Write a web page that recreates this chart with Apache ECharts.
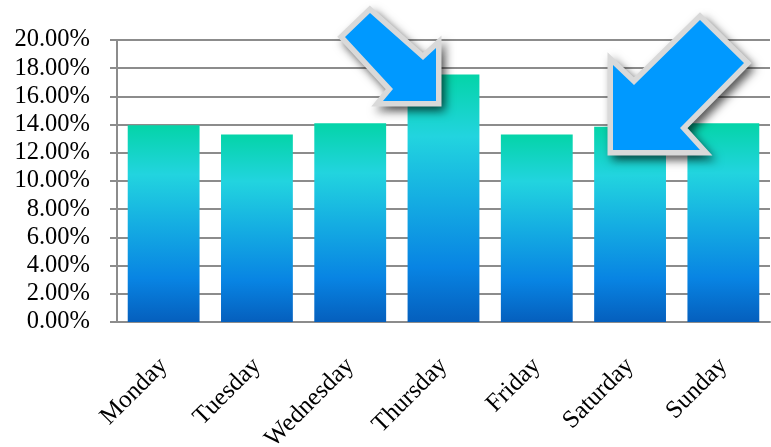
<!DOCTYPE html>
<html>
<head>
<meta charset="utf-8">
<script src="https://cdn.jsdelivr.net/npm/echarts@6/dist/echarts.min.js"></script>
<style>
html,body{margin:0;padding:0;background:#fff;}
#c{width:771px;height:447px;}
</style>
</head>
<body>
<div id="c"></div>
<script>
const categories = ['Monday','Tuesday','Wednesday','Thursday','Friday','Saturday','Sunday'];
const shares = [13.95, 13.30, 14.10, 17.55, 13.30, 13.85, 14.10];
const yMin = 0, yMax = 20, yStep = 2;

// annotation arrows (pixel outlines of decorative callouts)
const arrow1 = [[370,13],[423,60],[436,48],[436,101],[383,101],[393,89],[345,37]];
const arrow2 = [[700,20],[744,63],[680,128],[700,150],[613,150],[613,65],[634,85]];

const chart = echarts.init(document.getElementById('c'), null, {renderer:'canvas'});
const FONT = '"Liberation Serif", "Times New Roman", serif';

function arrowGraphics(pts){
  return [
    {type:'polygon', z:100, shape:{points:pts},
     style:{fill:'#d9d9d9', stroke:'#d9d9d9', lineWidth:11, lineJoin:'miter',
            shadowBlur:10, shadowColor:'rgba(0,0,0,0.55)', shadowOffsetX:4, shadowOffsetY:5}},
    {type:'polygon', z:101, shape:{points:pts}, style:{fill:'#0099FF'}}
  ];
}

chart.setOption({
  animation:false,
  grid:{left:117, right:1, top:40, bottom:125, containLabel:false, outerBoundsMode:'none'},
  xAxis:{
    type:'category', data:categories,
    axisLine:{lineStyle:{color:'#8c8c8c', width:2}},
    axisTick:{length:6, lineStyle:{color:'#8c8c8c', width:2}},
    axisLabel:{rotate:45, margin:40, color:'#000', fontFamily:FONT, fontSize:25, interval:0}
  },
  yAxis:{
    type:'value', min:yMin, max:yMax, interval:yStep,
    axisLine:{show:true, lineStyle:{color:'#8c8c8c', width:2}},
    axisTick:{show:true, length:7, lineStyle:{color:'#8c8c8c', width:2}},
    splitLine:{lineStyle:{color:'#8c8c8c', width:2}},
    axisLabel:{margin:27, color:'#000', fontFamily:FONT, fontSize:24.5,
      formatter:v=>v.toFixed(2)+'%'}
  },
  series:[{
    type:'bar', data:shares, barCategoryGap:'23%',
    itemStyle:{color:new echarts.graphic.LinearGradient(0,0,0,1,[
      {offset:0, color:'#04D4A8'},
      {offset:0.25, color:'#22D4DF'},
      {offset:0.5, color:'#15AEE2'},
      {offset:0.78, color:'#0884E3'},
      {offset:1, color:'#055FBD'}
    ])}
  }],
  graphic: arrowGraphics(arrow1).concat(arrowGraphics(arrow2))
});
</script>
</body>
</html>
